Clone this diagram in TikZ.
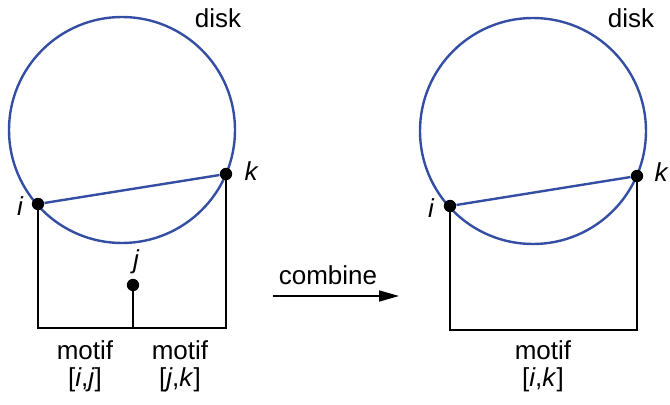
\documentclass[tikz,border=0pt]{standalone}
\usepackage{fontspec}
\setmainfont{Liberation Sans}
\usetikzlibrary{arrows.meta,positioning}
\definecolor{diskblue}{RGB}{52,78,163}
\tikzset{
  x=0.5pt,y=-0.5pt,
  disk/.style={circle,draw=diskblue,line width=1.2pt,minimum size=113pt,inner sep=0pt},
  chord/.style={draw=diskblue,line width=1.2pt},
  dot/.style={circle,fill=black,inner sep=0pt,minimum size=6.2pt},
  wire/.style={draw=black,line width=1.2pt},
  tag/.style={font=\fontsize{13}{15}\selectfont,inner sep=0pt},
  vtx/.style={font=\fontsize{13}{15}\selectfont\itshape,inner sep=0pt},
}

\begin{document}
\begin{tikzpicture}
  \useasboundingbox (0,0) rectangle (670,405);
  % left: two motifs
  \node[disk] (d1) at (122,130) {};
  \node[tag] (disk1) at (218,18) {disk};
  \node[dot] (i1) at (38,204) {};
  \node[dot] (k1) at (226,174) {};
  \node[dot] (j1) at (133,285) {};
  \node[vtx] (li1) at (20,206) {i};
  \node[vtx] (lk1) at (251,171) {k};
  \node[vtx] (lj1) at (136,262) {j};
  \coordinate (b1) at (133,328);
  \draw[chord] (i1) -- (k1);
  \draw[wire] (i1.center) -- (i1 |- b1) -- (k1 |- b1) -- (k1.center);
  \draw[wire] (j1.center) -- (b1);
  \node[tag] (m1) at (85,350) {motif};
  \node[tag] (m2) at (180,350) {motif};
  \node[tag] (r1) at (85,380) {[\textit{i},\textit{j}]};
  \node[tag] (r2) at (180,380) {[\textit{j},\textit{k}]};
  % arrow
  \coordinate (a1) at (273,296);
  \coordinate (a2) at (399,296);
  \draw[wire,line width=0.8pt,-{Triangle[length=10pt,width=5.5pt]}] (a1) -- (a2);
  \node[tag] (comb) at (328,275) {combine};
  % right: combined motif
  \node[disk] (d2) at (533,131) {};
  \node[tag] (disk2) at (631,18) {disk};
  \node[dot] (i2) at (450,206) {};
  \node[dot] (k2) at (637,176) {};
  \node[vtx] (li2) at (431,208) {i};
  \node[vtx] (lk2) at (661,172) {k};
  \coordinate (b2) at (543,330);
  \draw[chord] (i2) -- (k2);
  \draw[wire] (i2.center) -- (i2 |- b2) -- (k2 |- b2) -- (k2.center);
  \node[tag] (m3) at (543,350) {motif};
  \node[tag] (r3) at (543,380) {[\textit{i},\textit{k}]};
\end{tikzpicture}
\end{document}
